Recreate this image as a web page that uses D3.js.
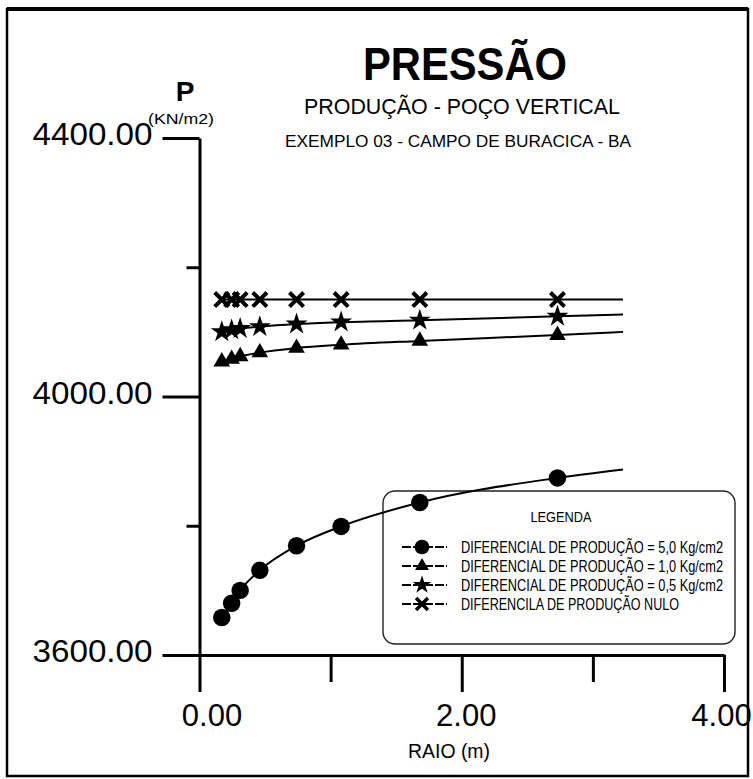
<!DOCTYPE html>
<meta charset="utf-8">
<style>
body { margin: 0; background: #fff; }
svg text { fill: #000; font-family: "Liberation Sans Narrow", "Arial Narrow", "Liberation Sans", Arial, sans-serif; }
.axis path, .axis line { stroke: #000; stroke-width: 3px; }
.axis text { font-family: "Liberation Sans", Arial, sans-serif; font-size: 31px; }
.curve { fill: none; stroke: #000; stroke-width: 2px; }
</style>
<body>
<script src="https://cdn.jsdelivr.net/npm/d3@7"></script>
<script>

// raio (m) dos pontos marcados
var raio = [0.17, 0.245, 0.31, 0.46, 0.74, 1.08, 1.68, 2.73];
var raioFim = 3.23;   // fim das curvas

var pressao50 = [3658, 3680, 3700, 3731, 3769, 3799, 3836, 3874];
var pressao10 = [4054, 4058, 4062, 4068, 4075, 4080, 4086, 4095];
var pressao05 = [4100, 4103, 4105, 4108, 4112, 4115, 4118, 4124];
var pressaoNulo = [4150, 4150, 4150, 4150, 4150, 4150, 4150, 4150];
var pressaoFim = [3887, 4100, 4127, 4150];

var legenda = [
  "DIFERENCIAL DE PRODUÇÃO = 5,0 Kg/cm2",
  "DIFERENCIAL DE PRODUÇÃO = 1,0 Kg/cm2",
  "DIFERENCIAL DE PRODUÇÃO = 0,5 Kg/cm2",
  "DIFERENCILA DE PRODUÇÃO NULO"
];
var yTicks = [3600, 4000, 4400],
    yMinor = [3800, 4200],
    xTicks = [0, 2, 4],
    xMinor = [1, 3];

var width = 753,
    height = 779;

var x = d3.scaleLinear().domain([0, 4]).range([199.5, 724]);
var y = d3.scaleLinear().domain([3600, 4400]).range([655, 138]);

var svg = d3.select("body").append("svg")
    .attr("width", width)
    .attr("height", height);

// moldura
svg.append("rect")
    .attr("x", 7).attr("y", 9)
    .attr("width", 741).attr("height", 767)
    .attr("fill", "none")
    .attr("stroke", "#000")
    .attr("stroke-width", 2.5);
svg.append("line")
    .attr("x1", 7).attr("x2", 748).attr("y1", 9).attr("y2", 9)
    .attr("stroke", "#000").attr("stroke-width", 4);

// titulos
svg.append("text")
    .attr("x", 465).attr("y", 80)
    .attr("text-anchor", "middle")
    .attr("textLength", 204).attr("lengthAdjust", "spacingAndGlyphs")
    .style("font-family", "'Liberation Sans', Arial, sans-serif")
    .style("font-weight", "bold")
    .style("font-size", "47px")
    .text("PRESSÃO");

svg.append("text")
    .attr("x", 462).attr("y", 114)
    .attr("text-anchor", "middle")
    .attr("textLength", 316).attr("lengthAdjust", "spacingAndGlyphs")
    .style("font-size", "22px")
    .text("PRODUÇÃO - POÇO VERTICAL");

svg.append("text")
    .attr("x", 458).attr("y", 147)
    .attr("text-anchor", "middle")
    .attr("textLength", 346).attr("lengthAdjust", "spacingAndGlyphs")
    .style("font-size", "16px")
    .text("EXEMPLO 03 - CAMPO DE BURACICA - BA");

// rotulo do eixo y
svg.append("text")
    .attr("x", 185).attr("y", 101)
    .attr("text-anchor", "middle")
    .style("font-family", "'Liberation Sans', Arial, sans-serif")
    .style("font-weight", "bold")
    .style("font-size", "28px")
    .text("P");
svg.append("text")
    .attr("x", 181).attr("y", 124)
    .attr("text-anchor", "middle")
    .attr("textLength", 66).attr("lengthAdjust", "spacingAndGlyphs")
    .style("font-size", "15px")
    .text("(KN/m2)");

// eixos
var gy = svg.append("g").attr("class", "axis")
    .attr("transform", "translate(" + x(0) + ",0)")
    .call(d3.axisLeft(y).tickValues(yTicks).tickSize(37).tickSizeOuter(0)
      .tickPadding(10).tickFormat(d3.format(".2f")));
gy.selectAll("text").attr("dy", "0.22em")
    .attr("textLength", 120).attr("lengthAdjust", "spacingAndGlyphs");
svg.append("g").attr("class", "axis")
    .attr("transform", "translate(" + x(0) + ",0)")
    .call(d3.axisLeft(y).tickValues(yMinor).tickSize(13).tickFormat(""))
    .select(".domain").remove();

var gx = svg.append("g").attr("class", "axis")
    .attr("transform", "translate(0," + y(3600) + ")")
    .call(d3.axisBottom(x).tickValues(xTicks).tickSize(37).tickSizeOuter(0)
      .tickPadding(12).tickFormat(d3.format(".2f")));
gx.selectAll("text").attr("dx", function(d) { return d === 0 ? 12 : (d === 4 ? -3 : 4); });
svg.append("g").attr("class", "axis")
    .attr("transform", "translate(0," + y(3600) + ")")
    .call(d3.axisBottom(x).tickValues(xMinor).tickSize(27).tickFormat(""))
    .select(".domain").remove();

svg.append("text")
    .attr("x", 449).attr("y", 758)
    .attr("text-anchor", "middle")
    .attr("textLength", 82).attr("lengthAdjust", "spacingAndGlyphs")
    .style("font-size", "20px")
    .text("RAIO (m)");

// simbolos
var simboloX = {
  draw: function(context, size) {
    var r = Math.sqrt(size) / 2;
    context.moveTo(-r, -r); context.lineTo(r, r);
    context.moveTo(r, -r); context.lineTo(-r, r);
  }
};
var series = [
  { vals: pressao50, sym: d3.symbolCircle, size: 240, fill: true },
  { vals: pressao10, sym: d3.symbolTriangle, size: 120, fill: true },
  { vals: pressao05, sym: d3.symbolStar, size: 150, fill: true },
  { vals: pressaoNulo, sym: simboloX, size: 200, fill: false }
];

// legenda
var leg = svg.append("g");
leg.append("rect")
    .attr("x", 383).attr("y", 491)
    .attr("width", 352).attr("height", 153)
    .attr("rx", 12)
    .attr("fill", "none")
    .attr("stroke", "#222")
    .attr("stroke-width", 1.4);
leg.append("text")
    .attr("x", 561).attr("y", 522)
    .attr("text-anchor", "middle")
    .attr("textLength", 61).attr("lengthAdjust", "spacingAndGlyphs")
    .style("font-size", "14px")
    .text("LEGENDA");

var legLen = [262, 262, 262, 218];
var rows = leg.selectAll(".row").data(series).enter().append("g")
    .attr("transform", function(d, i) { return "translate(0," + [547, 566, 585, 604][i] + ")"; });
rows.append("line")
    .attr("x1", 402).attr("x2", 447)
    .attr("stroke", "#000").attr("stroke-width", 2)
    .attr("stroke-dasharray", "9,2");
rows.append("path")
    .attr("transform", "translate(422,0)")
    .attr("d", function(d) { return d3.symbol().type(d.sym).size(d.size * 0.7)(); })
    .attr("fill", function(d) { return d.fill ? "#000" : "none"; })
    .attr("stroke", "#000")
    .attr("stroke-width", function(d) { return d.fill ? 0 : 3.5; });
rows.append("text")
    .attr("transform", "translate(461,6) scale(1,1.15)")
    .attr("textLength", function(d, i) { return legLen[i]; })
    .attr("lengthAdjust", "spacingAndGlyphs")
    .style("font-size", "14px")
    .text(function(d, i) { return legenda[i]; });

// curvas
var line = d3.line()
    .x(function(d) { return x(d[0]); })
    .y(function(d) { return y(d[1]); })
    .curve(d3.curveMonotoneX);

series.forEach(function(s, k) {
  var pts = raio.map(function(r, i) { return [r, s.vals[i]]; });
  svg.append("path")
      .attr("class", "curve")
      .attr("d", line(pts.concat([[raioFim, pressaoFim[k]]])));
  svg.selectAll(".m" + k).data(pts).enter().append("path")
      .attr("class", "m" + k)
      .attr("transform", function(d) { return "translate(" + x(d[0]) + "," + y(d[1]) + ")"; })
      .attr("d", d3.symbol().type(s.sym).size(s.size))
      .attr("fill", s.fill ? "#000" : "none")
      .attr("stroke", "#000")
      .attr("stroke-width", s.fill ? 0 : 4);
});

</script>
</body>
</html>
